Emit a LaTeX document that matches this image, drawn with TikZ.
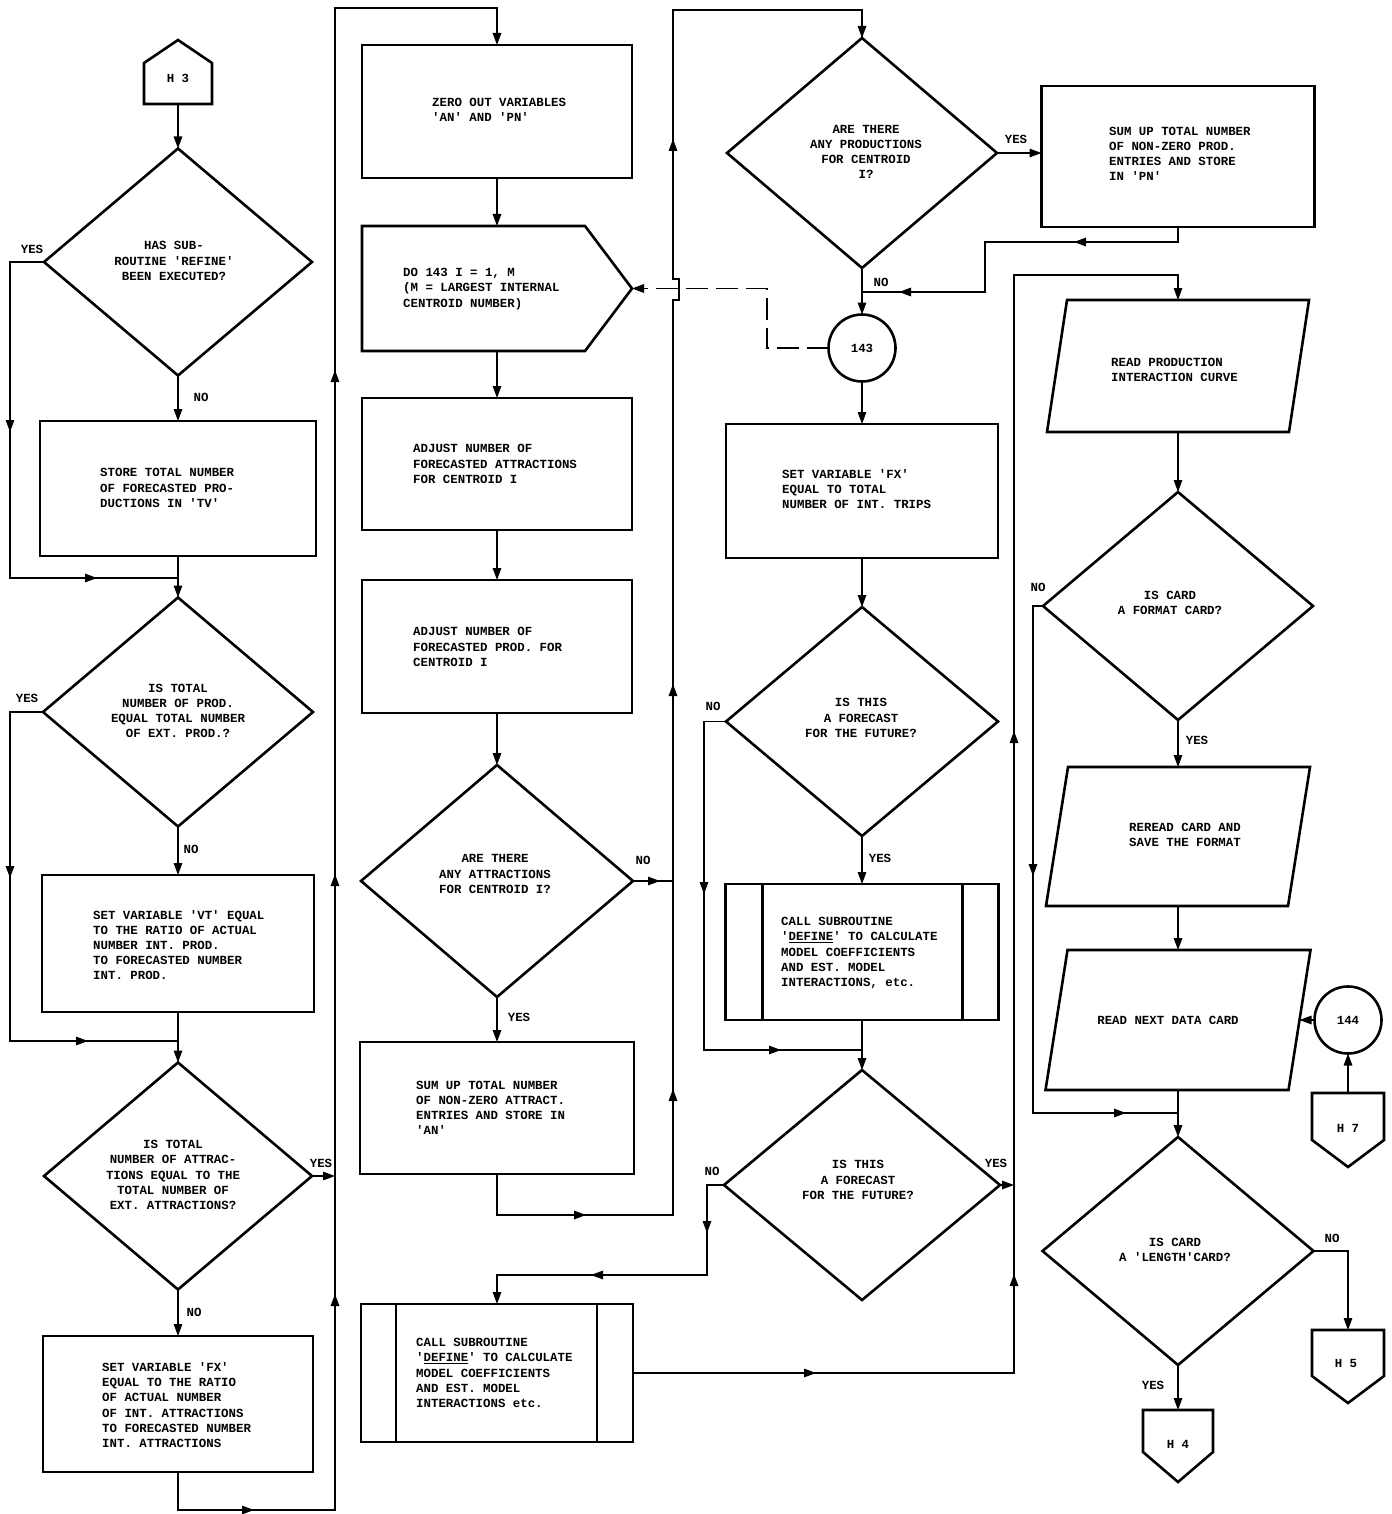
\documentclass[tikz,border=0pt]{standalone}
\usepackage{fontspec}
\setmonofont{Liberation Mono}
\usetikzlibrary{shapes.geometric,arrows.meta,calc}
\newcommand\twfont{\ttfamily\bfseries\fontsize{12.4}{15.2}\selectfont}
\tikzset{
 shp/.style={draw, line width=2.6pt, inner sep=0pt, outer sep=0pt},
 ghost/.style={draw=none, inner sep=0pt, outer sep=0pt},
 sline/.style={line width=2.6pt, line join=miter},
 conn/.style={line width=1.4pt},
 arr/.style={conn, -{Triangle[length=12pt,width=8.5pt]}},
 tip/.style={conn, -{Triangle[length=12pt,width=8.5pt]}},
 txt/.style={font=\twfont, align=left, inner sep=0pt, anchor=west},
 ctxt/.style={font=\twfont, align=center, inner sep=0pt},
 lbl/.style={font=\twfont, inner sep=0pt},
 dia/.style={shape=diamond, draw, line width=2.6pt, inner sep=0pt, outer sep=0pt},
 circ/.style={shape=circle, draw, line width=2.6pt, inner sep=0pt, outer sep=0pt, minimum size=67pt, font=\twfont},
}
\begin{document}
\begin{tikzpicture}[x=1pt,y=-1pt]
\useasboundingbox (0,0) rectangle (1391,1514);
\fill[white] (0,0) rectangle (1391,1514);

% ---------------- column 1 ----------------
\node[ghost, minimum width=68pt, minimum height=64pt] (h3) at (178,72) {};
\draw[sline] (h3.south west) -- (h3.south east) -- ($(h3.south east)+(0,-41)$) -- (h3.north) -- ($(h3.south west)+(0,-41)$) -- cycle;
\node[lbl] (th3) at (178,78) {H 3};

\node[dia, minimum width=268pt, minimum height=227pt] (d1) at (178,262) {};
\node[ctxt] (td1) at (174,261) {HAS SUB-\\ROUTINE 'REFINE'\\BEEN EXECUTED?};

\node[shp, minimum width=276pt, minimum height=135pt] (b1) at (178,488.5) {};
\node[txt] (tb1) at (100,488) {STORE TOTAL NUMBER\\OF FORECASTED PRO-\\DUCTIONS IN 'TV'};

\node[dia, minimum width=270pt, minimum height=229pt] (d2) at (178,712) {};
\node[ctxt] (td2) at (178,711) {IS TOTAL\\NUMBER OF PROD.\\EQUAL TOTAL NUMBER\\OF EXT. PROD.?};

\node[shp, minimum width=272pt, minimum height=137pt] (b2) at (178,943.5) {};
\node[txt] (tb2) at (93,945) {SET VARIABLE 'VT' EQUAL\\TO THE RATIO OF ACTUAL\\NUMBER INT. PROD.\\TO FORECASTED NUMBER\\INT. PROD.};

\node[dia, minimum width=268pt, minimum height=227pt] (d3) at (178,1176) {};
\node[ctxt] (td3) at (173,1175) {IS TOTAL\\NUMBER OF ATTRAC-\\TIONS EQUAL TO THE\\TOTAL NUMBER OF\\EXT. ATTRACTIONS?};

\node[shp, minimum width=270pt, minimum height=136pt] (b3) at (178,1404) {};
\node[txt] (tb3) at (102,1405) {SET VARIABLE 'FX'\\EQUAL TO THE RATIO\\OF ACTUAL NUMBER\\OF INT. ATTRACTIONS\\TO FORECASTED NUMBER\\INT. ATTRACTIONS};

% ---------------- column 2 ----------------
\node[shp, minimum width=270pt, minimum height=133pt] (b4) at (497,111.5) {};
\node[txt] (tb4) at (432,110) {ZERO OUT VARIABLES\\'AN' AND 'PN'};

\node[ghost, minimum width=270pt, minimum height=125pt] (do) at (497,288.5) {};
\draw[sline] (do.north west) -- ($(do.north east)+(-47,0)$) -- (do.east) -- ($(do.south east)+(-47,0)$) -- (do.south west) -- cycle;
\node[txt] (tdo) at (403,289) {DO 143 I = 1, M\\(M = LARGEST INTERNAL\\CENTROID NUMBER)};

\node[shp, minimum width=270pt, minimum height=132pt] (b5) at (497,464) {};
\node[txt] (tb5) at (413,464) {ADJUST NUMBER OF\\FORECASTED ATTRACTIONS\\FOR CENTROID I};

\node[shp, minimum width=270pt, minimum height=133pt] (b6) at (497,646.5) {};
\node[txt] (tb6) at (413,647) {ADJUST NUMBER OF\\FORECASTED PROD. FOR\\CENTROID I};

\node[dia, minimum width=272pt, minimum height=232pt] (d4) at (497,881) {};
\node[ctxt] (td4) at (495,874) {ARE THERE\\ANY ATTRACTIONS\\FOR CENTROID I?};

\node[shp, minimum width=274pt, minimum height=132pt] (b7) at (497,1108) {};
\node[txt] (tb7) at (416,1108) {SUM UP TOTAL NUMBER\\OF NON-ZERO ATTRACT.\\ENTRIES AND STORE IN\\'AN'};

\node[shp, minimum width=272pt, minimum height=138pt] (c1) at (497,1373) {};
\draw[sline] ($(c1.north west)+(35,0)$) -- ($(c1.south west)+(35,0)$);
\draw[sline] ($(c1.north east)+(-36,0)$) -- ($(c1.south east)+(-36,0)$);
\node[txt] (tc1) at (416,1373) {CALL SUBROUTINE\\'\underline{DEFINE}' TO CALCULATE\\MODEL COEFFICIENTS\\AND EST. MODEL\\INTERACTIONS etc.};

% ---------------- column 3 ----------------
\node[dia, minimum width=270pt, minimum height=230pt] (d5) at (862,153) {};
\node[ctxt] (td5) at (866,152) {ARE THERE\\ANY PRODUCTIONS\\FOR CENTROID\\I?};

\node[circ] (c143) at (862,348) {143};

\node[shp, minimum width=272pt, minimum height=134pt] (b9) at (862,491) {};
\node[txt] (tb9) at (782,489) {SET VARIABLE 'FX'\\EQUAL TO TOTAL\\NUMBER OF INT. TRIPS};

\node[dia, minimum width=272pt, minimum height=229pt] (d7) at (862,721.5) {};
\node[ctxt] (td7) at (861,718) {IS THIS\\A FORECAST\\FOR THE FUTURE?};

\node[shp, minimum width=273pt, minimum height=136pt] (c2) at (862,952) {};
\draw[sline] ($(c2.north west)+(37,0)$) -- ($(c2.south west)+(37,0)$);
\draw[sline] ($(c2.north east)+(-36,0)$) -- ($(c2.south east)+(-36,0)$);
\node[txt] (tc2) at (781,953) {CALL SUBROUTINE\\'\underline{DEFINE}' TO CALCULATE\\MODEL COEFFICIENTS\\AND EST. MODEL\\INTERACTIONS, etc.};

\node[dia, minimum width=276pt, minimum height=230pt] (d6) at (862,1185) {};
\node[ctxt] (td6) at (858,1180) {IS THIS\\A FORECAST\\FOR THE FUTURE?};

% ---------------- column 4 ----------------
\node[shp, minimum width=273pt, minimum height=141pt] (b8) at (1178,156.5) {};
\node[txt] (tb8) at (1109,154) {SUM UP TOTAL NUMBER\\OF NON-ZERO PROD.\\ENTRIES AND STORE\\IN 'PN'};

\node[ghost, minimum width=262pt, minimum height=132pt] (p1) at (1178,366) {};
\draw[sline] (p1.south west) -- ($(p1.north west)+(20,0)$) -- (p1.north east) -- ($(p1.south east)+(-20,0)$) -- cycle;
\node[txt] (tp1) at (1111,370) {READ PRODUCTION\\INTERACTION CURVE};

\node[dia, minimum width=270pt, minimum height=228pt] (d8) at (1178,606) {};
\node[ctxt] (td8) at (1170,603) {IS CARD\\A FORMAT CARD?};

\node[ghost, minimum width=264pt, minimum height=139pt] (p2) at (1178,836.5) {};
\draw[sline] (p2.south west) -- ($(p2.north west)+(22,0)$) -- (p2.north east) -- ($(p2.south east)+(-22,0)$) -- cycle;
\node[ctxt] (tp2) at (1185,835) {REREAD CARD AND\\SAVE THE FORMAT};

\node[ghost, minimum width=265pt, minimum height=140pt] (p3) at (1178,1020) {};
\draw[sline] (p3.south west) -- ($(p3.north west)+(22,0)$) -- (p3.north east) -- ($(p3.south east)+(-22,0)$) -- cycle;
\node[ctxt] (tp3) at (1168,1020) {READ NEXT DATA CARD};
\coordinate (p3r) at ($(p3.east)+(-11,0)$);

\node[circ] (c144) at (1348,1020) {144};

\node[ghost, minimum width=72pt, minimum height=74pt] (h7) at (1348,1130) {};
\draw[sline] (h7.north west) -- (h7.north east) -- ($(h7.north east)+(0,47)$) -- (h7.south) -- ($(h7.north west)+(0,47)$) -- cycle;
\node[lbl] (th7) at (1348,1128) {H 7};

\node[dia, minimum width=271pt, minimum height=228pt] (d9) at (1178,1251) {};
\node[ctxt] (td9) at (1175,1250) {IS CARD\\A 'LENGTH'CARD?};

\node[ghost, minimum width=72pt, minimum height=73pt] (h5) at (1348,1366.5) {};
\draw[sline] (h5.north west) -- (h5.north east) -- ($(h5.north east)+(0,46)$) -- (h5.south) -- ($(h5.north west)+(0,46)$) -- cycle;
\node[lbl] (th5) at (1346,1363) {H 5};

\node[ghost, minimum width=70pt, minimum height=72pt] (h4) at (1178,1446) {};
\draw[sline] (h4.north west) -- (h4.north east) -- ($(h4.north east)+(0,42)$) -- (h4.south) -- ($(h4.north west)+(0,42)$) -- cycle;
\node[lbl] (th4) at (1178,1444) {H 4};

% ---------------- junctions ----------------
\coordinate (j1) at (178,578);
\coordinate (j2) at (178,1041);
\coordinate (j3) at (862,292);
\coordinate (j4) at (862,1050);
\coordinate (j5) at (1178,1113);
\coordinate (L1) at (335,0);
\coordinate (L2) at (673,0);
\coordinate (L3) at (1014,0);

% ---------------- connectors col 1 ----------------
\draw[arr] (h3.south) -- (d1.north);
\draw[conn] (d1.west) -- ++(-34,0) |- (j1);
\draw[tip] (10,420) -- (10,432);
\draw[tip] (85,578) -- (97,578);
\draw[arr] (d1.south) -- (b1.north);
\draw[arr] (b1.south) -- (d2.north);
\draw[conn] (d2.west) -- ++(-33,0) |- (j2);
\draw[tip] (10,866) -- (10,878);
\draw[tip] (76,1041) -- (88,1041);
\draw[arr] (d2.south) -- (b2.north);
\draw[arr] (b2.south) -- (d3.north);
\draw[arr] (d3.east) -- (d3.east -| L1);
\draw[arr] (d3.south) -- (b3.north);
\draw[arr] (b3.south) |- (335,1510) -- (335,8) -| (b4.north);
\draw[tip] (242,1510) -- (254,1510);
\draw[tip] (335,1306) -- (335,1294);
\draw[tip] (335,886) -- (335,874);
\draw[tip] (335,382) -- (335,370);

% ---------------- connectors col 2 ----------------
\draw[arr] (b4.south) -- (do.north);
\draw[arr] (do.south) -- (b5.north);
\draw[arr] (b5.south) -- (b6.north);
\draw[arr] (b6.south) -- (d4.north);
\draw[conn] (d4.east) -- (d4.east -| L2);
\draw[tip] (648,881) -- (660,881);
\draw[arr] (d4.south) -- (b7.north);
\draw[conn] (b7.south) |- (673,1215) -- (673,300) -- (679,300) -- (679,279) -- (673,279) -- (673,10) -| (d5.north);
\draw[tip] (d5.north |- 0,26) -- (d5.north);
\draw[tip] (574,1215) -- (586,1215);
\draw[tip] (673,1101) -- (673,1089);
\draw[tip] (673,696) -- (673,684);
\draw[tip] (673,151) -- (673,139);

% ---------------- connectors col 3 ----------------
\draw[arr] (d5.east) -- (b8.west |- d5.east);
\draw[conn] (b8.south) |- (985,242) |- (j3);
\draw[tip] (1086,242) -- (1074,242);
\draw[tip] (911,292) -- (899,292);
\draw[arr] (d5.south) -- (c143.north);
\draw[conn, dash pattern=on 22pt off 8pt, -{Triangle[length=12pt,width=8.5pt]}] (c143.west) -| ($(do.east)+(135,0)$) -- (do.east);
\draw[arr] (c143.south) -- (b9.north);
\draw[arr] (b9.south) -- (d7.north);
\draw[conn] (d7.west) -- ++(-22,0) |- (j4);
\draw[tip] (704,882) -- (704,894);
\draw[tip] (769,1050) -- (781,1050);
\draw[arr] (d7.south) -- (c2.north);
\draw[arr] (c2.south) -- (d6.north);
\draw[arr] (d6.west) -- ++(-17,0) |- (497,1275) -- (c1.north);
\draw[tip] (707,1221) -- (707,1233);
\draw[tip] (603,1275) -- (591,1275);
\draw[arr] (d6.east) -- (d6.east -| L3);
\draw[arr] (c1.east) -- (c1.east -| L3) -- (1014,275) -| (p1.north);
\draw[tip] (804,1373) -- (816,1373);
\draw[tip] (1014,1286) -- (1014,1274);
\draw[tip] (1014,743) -- (1014,731);

% ---------------- connectors col 4 ----------------
\draw[arr] (p1.south) -- (d8.north);
\draw[conn] (d8.west) -- ++(-10,0) |- (j5);
\draw[tip] (1033,864) -- (1033,876);
\draw[tip] (1114,1113) -- (1126,1113);
\draw[arr] (d8.south) -- (p2.north);
\draw[arr] (p2.south) -- (p3.north);
\draw[arr] (c144.west) -- (p3r);
\draw[arr] (h7.north) -- (c144.south);
\draw[arr] (p3.south) -- (d9.north);
\draw[arr] (d9.east) -| (h5.north);
\draw[arr] (d9.south) -- (h4.north);

% ---------------- labels ----------------
\node[lbl] (l1) at (32,249) {YES};
\node[lbl] (l2) at (201,397) {NO};
\node[lbl] (l3) at (27,698) {YES};
\node[lbl] (l4) at (191,849) {NO};
\node[lbl] (l5) at (321,1163) {YES};
\node[lbl] (l6) at (194,1312) {NO};
\node[lbl] (l7) at (643,860) {NO};
\node[lbl] (l8) at (519,1017) {YES};
\node[lbl] (l9) at (1016,139) {YES};
\node[lbl] (l10) at (881,282) {NO};
\node[lbl] (l11) at (713,706) {NO};
\node[lbl] (l12) at (880,858) {YES};
\node[lbl] (l13) at (712,1171) {NO};
\node[lbl] (l14) at (996,1163) {YES};
\node[lbl] (l15) at (1038,587) {NO};
\node[lbl] (l16) at (1197,740) {YES};
\node[lbl] (l17) at (1332,1238) {NO};
\node[lbl] (l18) at (1153,1385) {YES};
\end{tikzpicture}
\end{document}
